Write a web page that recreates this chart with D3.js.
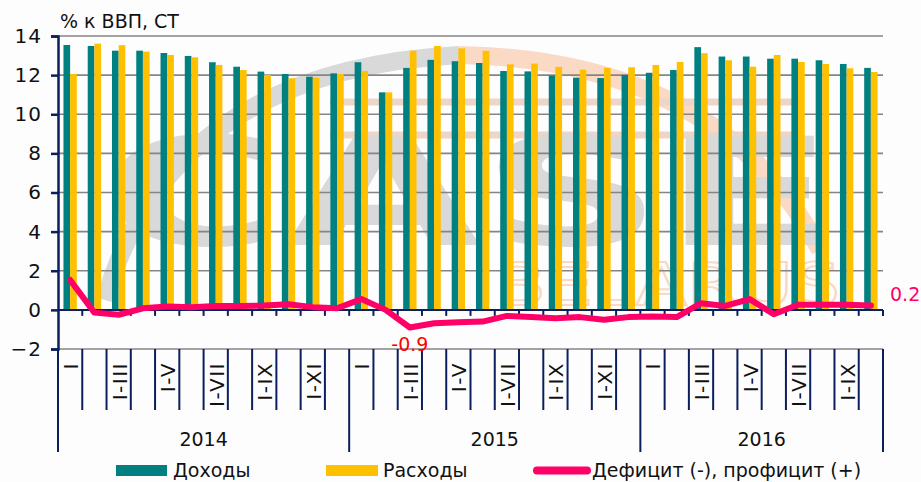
<!DOCTYPE html>
<html>
<head>
<meta charset="utf-8">
<title>Доходы и расходы бюджета</title>
<script src="https://cdn.jsdelivr.net/npm/d3@7"></script>
<style>
  body { margin: 0; background: #fdfdfe; }
  svg { display: block; font-family: Tahoma, "DejaVu Sans", Verdana, sans-serif; }
</style>
</head>
<body>
<svg width="921" height="482"></svg>
<script>
// данные, % к ВВП (читаются с графика)
var years = ["2014", "2015", "2016"];
var yearCounts = [12, 12, 10];
var periods = ["I", "I-II", "I-III", "I-IV", "I-V", "I-VI", "I-VII", "I-VIII", "I-IX", "I-X", "I-XI", "I-XII"];

var revenue = [13.54, 13.49, 13.25, 13.25, 13.13, 12.98, 12.66, 12.43, 12.18, 12.06, 11.92, 12.09,
               12.66, 11.12, 12.37, 12.78, 12.71, 12.62, 12.21, 12.19, 11.97, 11.87, 11.85, 12.01,
               12.12, 12.26, 13.43, 12.95, 12.95, 12.84, 12.84, 12.76, 12.57, 12.37];
var expense = [12.06, 13.61, 13.53, 13.20, 13.03, 12.91, 12.52, 12.26, 12.01, 11.84, 11.87, 12.06,
               12.21, 11.12, 13.25, 13.49, 13.37, 13.24, 12.55, 12.59, 12.42, 12.28, 12.37, 12.40,
               12.52, 12.67, 13.12, 12.76, 12.43, 13.03, 12.67, 12.57, 12.35, 12.16];
var balance = [1.53, -0.14, -0.25, 0.08, 0.17, 0.14, 0.20, 0.20, 0.22, 0.29, 0.14, 0.08,
               0.55, 0.00, -0.90, -0.68, -0.63, -0.60, -0.31, -0.37, -0.43, -0.37, -0.51, -0.37,
               -0.34, -0.37, 0.34, 0.20, 0.55, -0.22, 0.26, 0.26, 0.26, 0.22];
var yTicks = [-2, 0, 2, 4, 6, 8, 10, 12, 14];

var teal = "#008080", gold = "#ffc000", pink = "#ff0066", navy = "#0b1f5c";

// категории (год + период)
var cats = [];
years.forEach(function(yr, i) {
  for (var k = 0; k < yearCounts[i]; k++) cats.push({id: yr + " " + periods[k], year: yr, per: periods[k], k: k});
});
cats.forEach(function(c, i) { c.rev = revenue[i]; c.exp = expense[i]; c.bal = balance[i]; });

var svg = d3.select("svg");
var plotL = 58, plotR = 883, plotT = 36, plotB = 349;

var x = d3.scaleBand().domain(cats.map(function(d) { return d.id; }))
    .range([plotL, plotR]).paddingInner(0.45).paddingOuter(0.225);
var slot = d3.scaleBand().domain(x.domain()).range([plotL, plotR]).padding(0);
var y = d3.scaleLinear().domain([-2, 14]).range([plotB, plotT]);

// водяной знак (логотип) — бледный фон
var wm = svg.append("g").attr("opacity", 0.42);
wm.append("path").attr("d", "M105,300 Q170,70 460,55").attr("fill", "none")
  .attr("stroke", "#a8a8a8").attr("stroke-width", 18);
wm.append("path").attr("d", "M460,55 Q720,60 820,250").attr("fill", "none")
  .attr("stroke", "#f7a878").attr("stroke-width", 18);
wm.append("path").attr("d", "M330,102 H800 M330,135 H800").attr("fill", "none")
  .attr("stroke", "#d9a080").attr("stroke-width", 7);
wm.append("text").attr("x", 100).attr("y", 245).attr("textLength", 735).attr("lengthAdjust", "spacingAndGlyphs")
  .attr("font-size", 150).attr("font-weight", "bold").attr("fill", "#a8a8a8").text("CASE");
wm.append("text").attr("x", 495).attr("y", 305).attr("textLength", 345).attr("lengthAdjust", "spacingAndGlyphs")
  .attr("font-size", 58).attr("fill", "none").attr("stroke", "#f4a878").attr("stroke-width", 2).text("BELARUS");

// сетка
svg.append("g").selectAll("line").data(yTicks).join("line")
  .attr("x1", plotL).attr("x2", plotR)
  .attr("y1", function(d) { return y(d); }).attr("y2", function(d) { return y(d); })
  .attr("stroke", "#858585").attr("stroke-width", 1.6);

// столбцы
var bw = x.bandwidth() / 2;
svg.append("g").selectAll("rect").data(cats).join("rect")
  .attr("x", function(d) { return x(d.id); })
  .attr("y", function(d) { return y(d.rev); })
  .attr("width", bw)
  .attr("height", function(d) { return y(0) - y(d.rev); })
  .attr("fill", teal);
svg.append("g").selectAll("rect").data(cats).join("rect")
  .attr("x", function(d) { return x(d.id) + bw; })
  .attr("y", function(d) { return y(d.exp); })
  .attr("width", bw)
  .attr("height", function(d) { return y(0) - y(d.exp); })
  .attr("fill", gold);

// ось Y
var yAxis = svg.append("g").attr("transform", "translate(" + plotL + ",0)")
  .call(d3.axisLeft(y).tickValues(yTicks).tickSize(7).tickPadding(9));
yAxis.select(".domain").attr("stroke", navy).attr("stroke-width", 2.5);
yAxis.selectAll(".tick line").attr("stroke", navy).attr("stroke-width", 2.5);
yAxis.selectAll("text").attr("font-size", 20).attr("fill", "#111").attr("letter-spacing", 1)
  .attr("font-family", "Tahoma, 'DejaVu Sans', sans-serif");

// ось X на нуле
var bounds = cats.map(function(d) { return slot(d.id); }).concat([plotR]);
svg.append("line").attr("x1", plotL).attr("x2", plotR).attr("y1", y(0)).attr("y2", y(0))
  .attr("stroke", navy).attr("stroke-width", 2);
svg.append("g").selectAll("line").data(bounds.slice(1)).join("line")
  .attr("x1", function(d) { return d; }).attr("x2", function(d) { return d; })
  .attr("y1", y(0)).attr("y2", y(0) + 6)
  .attr("stroke", navy).attr("stroke-width", 2);

// подписи категорий снизу
var lab = svg.append("g");
lab.selectAll("line.t").data(bounds).join("line").attr("class", "t")
  .attr("x1", function(d) { return d; }).attr("x2", function(d) { return d; })
  .attr("y1", plotB).attr("y2", function(d, i) {
    var edge = i === 0 || i === bounds.length - 1 || cats[i].k === 0;
    return edge ? 452 : 410;
  })
  .attr("stroke", navy).attr("stroke-width", 2);
lab.selectAll("text").data(cats.filter(function(d) { return d.k % 2 === 0; })).join("text")
  .attr("transform", function(d) { return "translate(" + (slot(d.id) + slot.bandwidth() / 2 + 1) + ",362) rotate(-90)"; })
  .attr("text-anchor", "end").attr("dominant-baseline", "central")
  .attr("font-size", 20).attr("letter-spacing", 1.5).attr("fill", "#111").text(function(d) { return d.per; });

// годы
var yearPos = [];
var start = 0;
years.forEach(function(yr, i) {
  var a = slot(cats[start].id), b = slot(cats[start + yearCounts[i] - 1].id) + slot.bandwidth();
  yearPos.push({year: yr, x: (a + b) / 2});
  start += yearCounts[i];
});
svg.append("g").selectAll("text").data(yearPos).join("text")
  .attr("x", function(d) { return d.x; }).attr("y", 446)
  .attr("text-anchor", "middle").attr("font-size", 19).attr("fill", "#111")
  .text(function(d) { return d.year; });

// линия дефицита
var line = d3.line()
  .x(function(d) { return x(d.id) + x.bandwidth() / 2; })
  .y(function(d) { return y(d.bal); });
svg.append("path").datum(cats).attr("d", line)
  .attr("fill", "none").attr("stroke", pink).attr("stroke-width", 6)
  .attr("stroke-linejoin", "round").attr("stroke-linecap", "round");

// подписи значений
var minC = cats[14], lastC = cats[cats.length - 1];
svg.append("text").attr("x", x(minC.id) + x.bandwidth() / 2).attr("y", y(minC.bal) + 24)
  .attr("text-anchor", "middle").attr("font-size", 19).attr("fill", "#ff0000")
  .text(d3.format(".1f")(minC.bal).replace("−", "-"));
svg.append("text").attr("x", 890).attr("y", y(lastC.bal) - 5)
  .attr("font-size", 19).attr("fill", pink)
  .text(d3.format(".1f")(lastC.bal));

// заголовок оси
svg.append("text").attr("x", 60).attr("y", 28).attr("font-size", 19).attr("fill", "#111")
  .text("% к ВВП, СТ");

// легенда
var lg = svg.append("g").attr("font-size", 19).attr("fill", "#111");
lg.append("rect").attr("x", 116).attr("y", 465).attr("width", 51).attr("height", 11).attr("fill", teal);
lg.append("text").attr("x", 173).attr("y", 477).text("Доходы");
lg.append("rect").attr("x", 326).attr("y", 465).attr("width", 52).attr("height", 11).attr("fill", gold);
lg.append("text").attr("x", 383).attr("y", 477).text("Расходы");
lg.append("line").attr("x1", 537).attr("x2", 587).attr("y1", 470.5).attr("y2", 470.5)
  .attr("stroke", pink).attr("stroke-width", 8).attr("stroke-linecap", "round");
lg.append("text").attr("x", 592).attr("y", 477).text("Дефицит (-), профицит (+)");
</script>
</body>
</html>
